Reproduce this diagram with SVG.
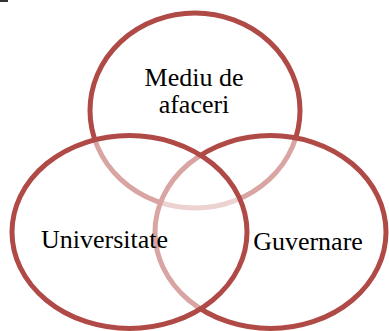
<svg xmlns="http://www.w3.org/2000/svg" width="389" height="331" viewBox="0 0 389 331">
<style>
.c{fill:#ffffff;fill-opacity:0.5;stroke:#b04a46;stroke-width:5}
.t{font-family:"Liberation Serif","Times New Roman",serif;font-size:26px;fill:#000;text-anchor:middle}
</style>
<rect width="389" height="331" fill="#ffffff"/>
<rect x="0" y="0" width="8" height="2" fill="#333"/>
<g id="mediu">
<ellipse class="c" cx="195" cy="110.5" rx="105" ry="97.5"/>
<text class="t" x="194" y="86">Mediu de</text>
<text class="t" x="194" y="113">afaceri</text>
</g>
<g id="guvernare">
<ellipse class="c" cx="270.5" cy="232" rx="115.5" ry="96.5"/>
<text class="t" x="308" y="250">Guvernare</text>
</g>
<g id="universitate">
<ellipse class="c" cx="129.5" cy="232" rx="117.5" ry="96.5"/>
<text class="t" x="104.5" y="248">Universitate</text>
</g>
<g id="connectors"></g>
</svg>
